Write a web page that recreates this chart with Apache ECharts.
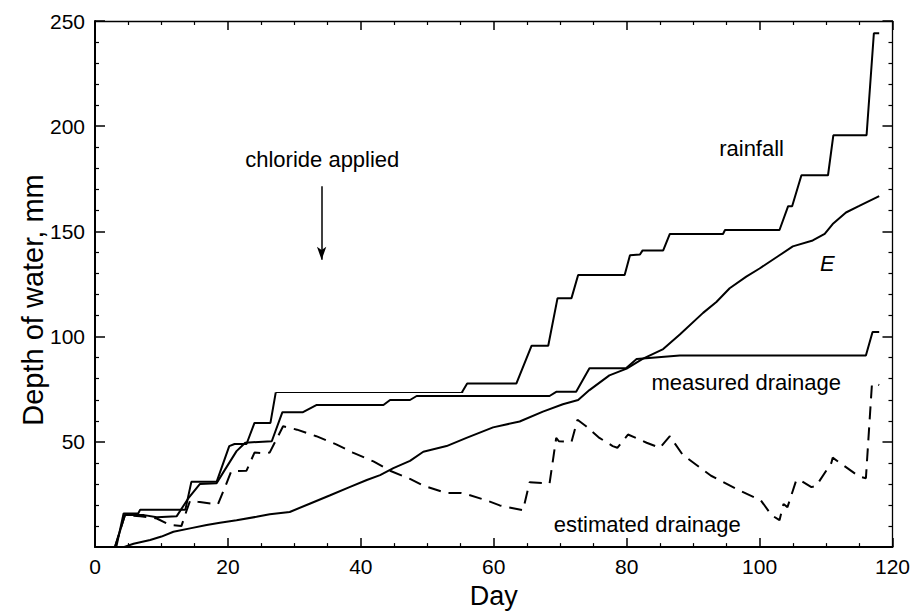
<!DOCTYPE html>
<html>
<head>
<meta charset="utf-8">
<script src="https://cdn.jsdelivr.net/npm/echarts@6/dist/echarts.min.js"></script>
<style>
html,body{margin:0;padding:0;background:#fff;}
#c{width:913px;height:614px;}
</style>
</head>
<body>
<div id="c"></div>
<script>
// ---- data (day, depth of water in mm) ----
var xTicks = [0, 20, 40, 60, 80, 100, 120];
var yTicks = [50, 100, 150, 200, 250];

var rainfallEarly = [[0,0],[3.2,0],[4.3,16],[6.5,16],[6.8,17.8],[13.6,17.8],[14.5,31],[18.3,31],[20.2,48],[21,49],[22.8,49],[24,59],[26.4,59],[27.2,73.5]];
var rainfallThin = [[27.2,73.5],[55.4,73.5]];
var rainfallLate = [[55.2,73.5],[56,77.7],[63.4,77.7],[65.7,95.7],[68.2,95.7],[69.6,118.3],[71.7,118.3],[72.7,129.3],[79.7,129.3],[80.5,138.7],[82,139],[82.4,141],[85.5,141],[86.5,148.8],[94.5,148.8],[94.8,150.7],[103,150.7],[104.3,162],[104.9,162],[106.3,176.7],[110.3,176.7],[111.1,195.7],[116.1,195.7],[117.2,244.2],[118,244.2]];

var measuredDrainage = [[0,0],[3,0],[4.5,15.2],[7.4,15.2],[9.3,14.2],[12.3,14.7],[14,23],[15.8,30],[18.3,30.3],[19.3,35.5],[21.3,45.6],[22.6,49.6],[26.6,50.3],[28.2,64.1],[31.3,64.1],[33.3,67.5],[43.4,67.5],[44.4,69.9],[47.4,69.9],[48.4,71.8],[68.4,71.8],[69.4,73.8],[72.4,73.8],[74.4,85],[79.9,85],[81.5,89.4],[88,91],[116,91],[117,102.2],[118,102.2]];

var estimatedDrainage = [[3,0],[4.5,15.2],[6.8,14.7],[9.3,13.6],[11.3,10.5],[13,10],[13.8,17.5],[14.3,22],[15.5,21.5],[18.5,20.3],[19.5,28],[20.5,36],[22.8,36.3],[24,44.9],[25.5,44.5],[26.3,45],[28.3,57.4],[30.4,55.8],[33.3,52.7],[36.3,48.8],[38.8,44.9],[41.9,40.7],[44.4,36.3],[47.4,32.4],[49.4,29.2],[52.9,25.7],[55.1,25.7],[55.8,25.3],[58.9,22.2],[60.9,19.8],[64.4,17.5],[65.4,30.8],[68.4,30.3],[69.4,51.9],[69.8,50.3],[71.7,50],[72.6,60.5],[73.9,57.4],[75.9,51.9],[77.9,48],[78.6,47.2],[80.2,53.5],[81.4,51.9],[83,49.6],[85,47.2],[86.5,52.7],[88.4,44],[92.7,33.9],[97,26.9],[100.2,22.2],[101.8,15.2],[103,12.8],[103.6,20.5],[104.2,19],[105.5,31.6],[106,32],[107.8,28.5],[108.5,29],[110.8,40],[111,42.5],[113,38],[115,33.5],[116,32.7],[116.9,77],[117.3,78],[118,77]];

var evaporationE = [[4.3,0],[5.8,1.6],[8.3,3.4],[10,5],[11.8,7.3],[14.3,8.9],[16.8,10.5],[18.8,11.6],[21.3,12.8],[24.3,14.4],[26.3,15.6],[29.3,16.7],[32.3,20.6],[35.3,24.5],[38.3,28.5],[40.9,31.9],[42.9,34.2],[44.9,37.5],[47.4,41],[49.4,45.3],[52.9,48],[55.9,51.9],[59.9,56.9],[63.9,59.7],[67.4,64.4],[70.4,67.9],[72.7,69.9],[74.4,74.6],[77.4,81.6],[80,84.8],[82.4,89.4],[85.5,94.1],[88,101],[91.5,111.3],[93.5,116.5],[95.5,123],[98,128.5],[100,132.4],[103,138.7],[105,142.9],[108,145.7],[109.8,148.8],[111,153.5],[113,159],[115,162.1],[118,166.8]];

// annotation anchors (day, mm)
var labelTexts = ['rainfall', 'E', 'measured drainage', 'estimated drainage', 'chloride applied'];
var labelDays  = [98.8, 110.2, 98, 83.1, 34.2];
var labelMM    = [189.5, 135, 78.3, 10.8, 184.3];
var arrowDay = 34.1, arrowFrom = 171.5, arrowTo = 136.5;

var FONT = '"Liberation Sans", Arial, Helvetica, sans-serif';
var chart = echarts.init(document.getElementById('c'), null, {renderer: 'svg'});

function xAx(pos, showLabel) {
  return {
    type: 'value', position: pos, min: xTicks[0], max: xTicks[xTicks.length-1], interval: 20,
    axisLine: {show: true, onZero: false, lineStyle: {color: '#000', width: pos === 'bottom' ? 2 : 1.3}},
    axisTick: {show: true, inside: true, length: 9, lineStyle: {color: '#000', width: 1.5}},
    minorTick: {show: true, splitNumber: 4, length: 4, lineStyle: {color: '#000', width: 1.2}},
    splitLine: {show: false}, minorSplitLine: {show: false},
    axisLabel: {show: showLabel, color: '#000', fontSize: 21, fontFamily: FONT, margin: 9},
    name: showLabel ? 'Day' : '', nameLocation: 'middle', nameGap: 32,
    nameTextStyle: {color: '#000', fontSize: 27, fontFamily: FONT}
  };
}
function yAx(pos, showLabel) {
  return {
    type: 'value', position: pos, min: 0, max: yTicks[yTicks.length-1], interval: 50,
    axisLine: {show: true, onZero: false, lineStyle: {color: '#000', width: pos === 'left' ? 2 : 1.3}},
    axisTick: {show: true, inside: true, length: 10, lineStyle: {color: '#000', width: 1.5}},
    minorTick: {show: true, splitNumber: 5, length: 4, lineStyle: {color: '#000', width: 1.2}},
    splitLine: {show: false}, minorSplitLine: {show: false},
    axisLabel: {show: showLabel, color: '#000', fontSize: 21, fontFamily: FONT, margin: 10,
      formatter: function (v) { return yTicks.indexOf(v) >= 0 ? String(v) : ''; }}
  };
}
function lineSeries(name, data, width, dashed) {
  return {
    name: name, type: 'line', data: data, showSymbol: false, symbol: 'none',
    xAxisIndex: 0, yAxisIndex: 0, silent: true,
    lineStyle: {color: '#000', width: width, type: dashed ? [13, 8] : 'solid'}
  };
}

chart.setOption({
  animation: false,
  backgroundColor: '#fff',
  grid: {left: 95, right: 20, top: 21, bottom: 60},
  xAxis: [xAx('bottom', true), xAx('top', false)],
  yAxis: [yAx('left', true), yAx('right', false)],
  series: [
    lineSeries('rainfall', rainfallEarly, 2),
    lineSeries('rainfall thin', rainfallThin, 1.1),
    lineSeries('rainfall late', rainfallLate, 2),
    lineSeries('measured drainage', measuredDrainage, 2),
    lineSeries('estimated drainage', estimatedDrainage, 2, true),
    lineSeries('E', evaporationE, 2),
    {
      type: 'line', data: [], xAxisIndex: 0, yAxisIndex: 0, silent: true,
      markLine: {
        silent: true, animation: false,
        symbol: ['none', 'arrow'], symbolSize: [7, 13],
        label: {show: false},
        lineStyle: {color: '#000', width: 1.5, type: 'solid'},
        data: [[{coord: [arrowDay, arrowFrom]}, {coord: [arrowDay, arrowTo]}]]
      }
    }
  ]
});

var graphics = [];
for (var i = 0; i < labelTexts.length; i++) {
  var p = chart.convertToPixel({xAxisIndex: 0, yAxisIndex: 0}, [labelDays[i], labelMM[i]]);
  graphics.push({
    type: 'text', x: p[0], y: p[1], silent: true,
    style: {text: labelTexts[i], fill: '#000', align: 'center', verticalAlign: 'middle',
      font: (labelTexts[i] === 'E' ? 'italic ' : '') + '22px ' + FONT}
  });
}
graphics.push({
  type: 'text', x: 33, y: 300, rotation: Math.PI / 2, silent: true,
  style: {text: 'Depth of water, mm', fill: '#000', align: 'center', verticalAlign: 'middle',
    font: '29px ' + FONT}
});
chart.setOption({graphic: graphics});
</script>
</body>
</html>
